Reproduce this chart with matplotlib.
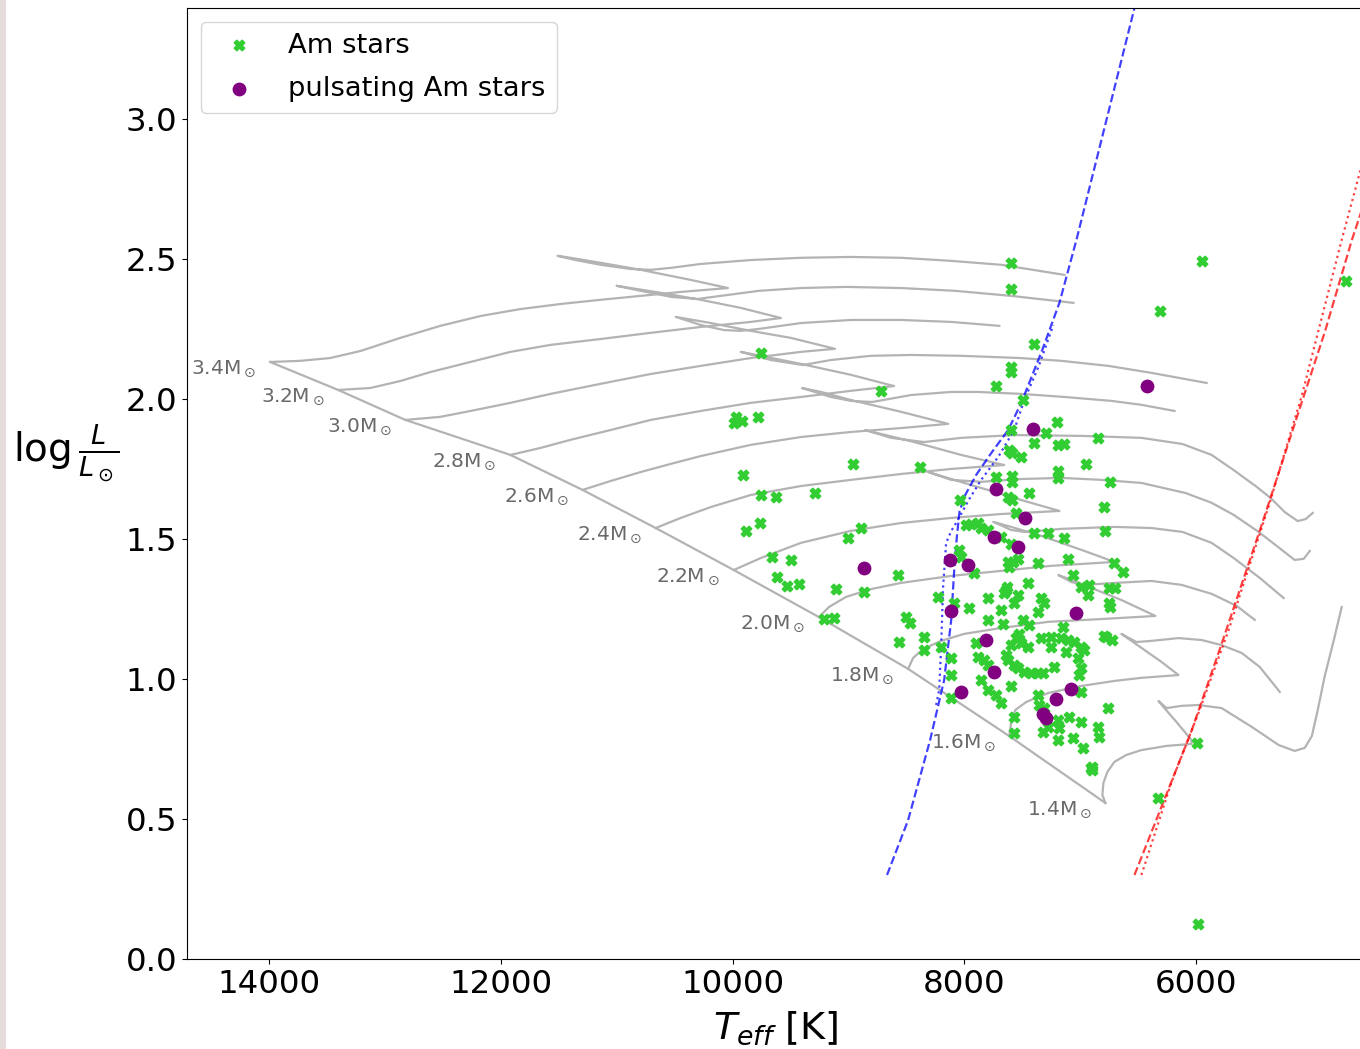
import matplotlib
matplotlib.use("Agg")
import matplotlib.pyplot as plt
from matplotlib.patches import Rectangle

# ---- evolutionary tracks (Teff [K], log L/Lsun) ----
# each track: main sequence -> hook back -> crossing to the right
t34 = [13991, 13732, 13473, 13213, 12867, 12522, 12176, 11830, 11484, 11138, 10792, 10447, 10040,
       10360, 10792, 11138, 11398, 11510,
       11355, 11138, 10879, 10706, 10533, 10274, 9842, 9409, 8977, 8545, 8112, 7680, 7135]
l34 = [2.132, 2.136, 2.146, 2.171, 2.218, 2.261, 2.296, 2.321, 2.339, 2.354, 2.368, 2.382, 2.396,
       2.425, 2.461, 2.486, 2.504, 2.511,
       2.496, 2.479, 2.464, 2.461, 2.468, 2.482, 2.496, 2.504, 2.507, 2.504, 2.493, 2.479, 2.443]
t32 = [13404, 13127, 12867, 12608, 12262, 11917, 11570, 11138, 10706, 10274, 9842, 9582,
       9928, 10274, 10620, 10879, 11000,
       10792, 10525, 10300, 10101, 9772, 9409, 9020, 8545, 8078, 7594, 7057]
l32 = [2.032, 2.039, 2.064, 2.096, 2.132, 2.168, 2.193, 2.214, 2.236, 2.257, 2.275, 2.289,
       2.325, 2.354, 2.379, 2.396, 2.404,
       2.386, 2.364, 2.357, 2.368, 2.386, 2.396, 2.400, 2.396, 2.386, 2.368, 2.343]
t30 = [12824, 12522, 12262, 11917, 11570, 11138, 10706, 10274, 9842, 9409, 9115,
       9496, 9842, 10187, 10490,
       10274, 10075, 9928, 9772, 9409, 8977, 8545, 8112, 7697]
l30 = [1.925, 1.936, 1.957, 1.986, 2.018, 2.054, 2.089, 2.118, 2.146, 2.168, 2.179,
       2.218, 2.243, 2.271, 2.293,
       2.264, 2.246, 2.243, 2.250, 2.271, 2.282, 2.282, 2.275, 2.261]
t28 = [11917, 11657, 11398, 11052, 10706, 10274, 9842, 9409, 8977, 8605,
       8977, 9409, 9755, 9928,
       9669, 9392, 9150, 8804, 8458, 8026, 7516, 7161, 6755, 6383, 5907]
l28 = [1.800, 1.825, 1.854, 1.889, 1.925, 1.957, 1.986, 2.007, 2.029, 2.046,
       2.086, 2.125, 2.154, 2.168,
       2.139, 2.121, 2.139, 2.154, 2.157, 2.154, 2.146, 2.136, 2.118, 2.093, 2.057]
t26 = [11294, 11052, 10792, 10533, 10274, 9842, 9409, 8977, 8545, 8138,
       8545, 8977, 9236, 9400,
       9150, 8977, 8795, 8458, 8112, 7888, 7507, 7135, 6729, 6470, 6184]
l26 = [1.675, 1.707, 1.739, 1.768, 1.796, 1.836, 1.864, 1.882, 1.896, 1.911,
       1.954, 1.996, 2.025, 2.039,
       2.007, 1.993, 1.989, 2.014, 2.025, 2.025, 2.018, 2.007, 1.993, 1.979, 1.957]
t24 = [10663, 10447, 10187, 9842, 9409, 8977, 8545, 8112, 7654,
       8026, 8432, 8718, 8856,
       8631, 8346, 8026, 7568, 6988, 6470, 6115, 5864, 5674, 5475, 5354, 5233, 5121, 5052, 4991]
l24 = [1.539, 1.575, 1.614, 1.657, 1.689, 1.711, 1.732, 1.750, 1.764,
       1.800, 1.846, 1.875, 1.889,
       1.861, 1.846, 1.861, 1.871, 1.868, 1.861, 1.839, 1.800, 1.746, 1.686, 1.646, 1.596, 1.564,
       1.571, 1.593]
t22 = [9989, 9755, 9409, 8977, 8545, 8112, 7680, 7178,
       7507, 7853, 8112, 8311,
       8112, 7853, 7507, 7161, 6815, 6470, 6089, 5864, 5674, 5458, 5302, 5147, 5069, 5017]
l22 = [1.389, 1.432, 1.486, 1.529, 1.557, 1.575, 1.589, 1.600,
       1.639, 1.682, 1.714, 1.739,
       1.711, 1.704, 1.714, 1.718, 1.711, 1.700, 1.664, 1.629, 1.586, 1.525, 1.475, 1.425,
       1.429, 1.457]
t20 = [9254, 9167, 9020, 8804, 8545, 8112, 7680, 7248, 6703,
       6988, 7334, 7594, 7749,
       7594, 7481, 7161, 6703, 6383, 6115, 5864, 5674, 5449, 5242]
l20 = [1.221, 1.257, 1.293, 1.321, 1.343, 1.368, 1.386, 1.404, 1.418,
       1.461, 1.511, 1.543, 1.561,
       1.532, 1.525, 1.536, 1.543, 1.539, 1.525, 1.486, 1.432, 1.361, 1.289]
t18 = [8484, 8441, 8354, 8199, 8000, 7680, 7274, 6815, 6349,
       6643, 6902, 7075, 7187,
       7075, 6962, 6694, 6383, 6124, 5864, 5648, 5492]
l18 = [1.036, 1.075, 1.107, 1.136, 1.161, 1.182, 1.204, 1.214, 1.225,
       1.282, 1.325, 1.354, 1.371,
       1.346, 1.336, 1.343, 1.350, 1.336, 1.304, 1.261, 1.211]
t16 = [7611, 7594, 7559, 7464, 7274, 6988, 6703, 6470, 6150,
       6297, 6470, 6643,
       6513, 6383, 6150, 5950, 5778, 5605, 5449, 5276]
l16 = [0.796, 0.846, 0.889, 0.918, 0.950, 0.975, 0.993, 1.004, 1.014,
       1.061, 1.111, 1.161,
       1.132, 1.136, 1.146, 1.139, 1.121, 1.093, 1.043, 0.954]
t14 = [6781, 6807, 6798, 6764, 6703, 6599, 6470, 6253, 6038,
       6038, 6167, 6323,
       6253, 6124, 5977, 5778, 5518, 5285, 5147, 5060, 4999, 4948, 4887, 4809, 4741]
l14 = [0.557, 0.586, 0.629, 0.668, 0.704, 0.729, 0.746, 0.761, 0.768,
       0.782, 0.846, 0.921,
       0.896, 0.904, 0.907, 0.896, 0.829, 0.764, 0.743, 0.754, 0.796, 0.889, 1.011, 1.139, 1.257]

masses = ['3.4', '3.2', '3.0', '2.8', '2.6', '2.4', '2.2', '2.0', '1.8', '1.6', '1.4']
tracks_t = [t34, t32, t30, t28, t26, t24, t22, t20, t18, t16, t14]
tracks_l = [l34, l32, l30, l28, l26, l24, l22, l20, l18, l16, l14]

# ---- instability strip edges ----
blue_dash_t = [8666, 8484, 8294, 8173, 8112, 8086, 8065, 8040, 7991, 7896, 7766, 7620, 7507,
               7326, 7178, 7031, 6815, 6530, 6469]
blue_dash_l = [0.300, 0.496, 0.782, 0.996, 1.211, 1.389, 1.500, 1.600, 1.657, 1.729, 1.807, 1.889,
               1.986, 2.175, 2.343, 2.568, 2.925, 3.396, 3.500]
blue_dot_t = [8242, 8216, 8199, 8182, 8156, 8110, 8069, 7960, 7853, 7706, 7568, 7481, 7360,
              7291, 7231]
blue_dot_l = [0.907, 0.961, 1.114, 1.329, 1.486, 1.530, 1.557, 1.640, 1.711, 1.793, 1.889, 1.996,
              2.114, 2.193, 2.264]
red_dash_t = [6530, 6038, 5778, 5432, 5147, 4887, 4653, 4524, 4300]
red_dash_l = [0.300, 0.814, 1.125, 1.550, 1.911, 2.239, 2.568, 2.729, 3.070]
red_dot_t = [6470, 6210, 5977, 5717, 5371, 5086, 4741, 4567, 4400]
red_dot_l = [0.300, 0.632, 0.879, 1.175, 1.618, 2.011, 2.568, 2.836, 3.100]

# ---- stars ----
am_t = [7594, 7594, 5950, 6306, 4705, 7395, 7594, 7594, 7723, 7490, 9755, 8718,
        9971, 9989, 9920, 9781, 9911, 8959, 8380, 9755, 9625, 9288, 9885, 9764,
        8890, 9003, 9660, 9496, 9617, 9530, 9426, 9106, 8864, 8571, 9210, 9124,
        8562, 8501, 8467, 8346, 8346, 8199,
        7196, 7594, 7291, 7395, 7187, 7135, 6841, 7611, 7585, 7507, 6945, 7187,
        7187, 7723, 7585, 7585, 6738, 7438, 7619, 7585, 8035, 6790, 7550, 7983,
        7939, 7879, 7853, 7792, 7395, 7274, 7135, 6781, 7680, 7594, 8043, 8026,
        7619, 7576, 7533, 7611, 7360, 7101, 6703, 6625, 7913, 7057, 7447, 7628,
        6919, 6694, 6746, 6738, 6772, 6720,
        8225, 8086, 7957, 7792, 7637, 7654, 7533, 7334, 7308, 7360, 7568, 7680,
        7490, 7438, 7663, 7792, 7144, 6988, 6928, 6746, 8112, 8112, 7896, 7879,
        7827, 7792, 7637, 7594, 7550, 7524, 7507, 7447, 7334, 7248, 7161, 7101,
        7049, 6988, 6962, 7118, 7248, 7014, 6988, 7005, 6790, 7619, 7568, 7533,
        7481, 7421, 7360, 7317, 7222, 7853, 7792, 7723, 7680, 7594, 8112, 7568,
        7360, 7351, 7308, 7274, 7317, 7187, 7178, 7187, 7092, 6988, 6841, 6833,
        6988, 6755, 7057, 6971, 6902, 6893, 6893, 7568, 6323, 5994, 5985]
am_l = [2.486, 2.393, 2.493, 2.314, 2.421, 2.196, 2.114, 2.096, 2.046, 1.996, 2.164, 2.029,
        1.936, 1.914, 1.921, 1.936, 1.729, 1.768, 1.757, 1.657, 1.650, 1.664, 1.529, 1.557,
        1.539, 1.504, 1.436, 1.425, 1.364, 1.332, 1.339, 1.321, 1.311, 1.371, 1.214, 1.218,
        1.132, 1.221, 1.200, 1.150, 1.104, 1.114,
        1.918, 1.889, 1.879, 1.843, 1.836, 1.839, 1.861, 1.818, 1.807, 1.793, 1.768, 1.743,
        1.718, 1.721, 1.725, 1.704, 1.704, 1.664, 1.650, 1.639, 1.639, 1.614, 1.593, 1.550,
        1.554, 1.557, 1.539, 1.532, 1.521, 1.521, 1.504, 1.529, 1.507, 1.482, 1.461, 1.436,
        1.418, 1.418, 1.429, 1.400, 1.414, 1.429, 1.414, 1.382, 1.379, 1.371, 1.343, 1.329,
        1.336, 1.325, 1.271, 1.257, 1.150, 1.139,
        1.293, 1.271, 1.254, 1.289, 1.318, 1.307, 1.300, 1.289, 1.271, 1.239, 1.271, 1.246,
        1.211, 1.193, 1.196, 1.211, 1.186, 1.329, 1.300, 1.325, 1.075, 1.014, 1.129, 1.079,
        1.068, 1.050, 1.086, 1.121, 1.146, 1.161, 1.129, 1.114, 1.146, 1.150, 1.146, 1.139,
        1.132, 1.114, 1.104, 1.096, 1.114, 1.075, 1.039, 1.014, 1.154, 1.068, 1.050, 1.039,
        1.025, 1.021, 1.021, 1.021, 1.043, 0.996, 0.961, 0.943, 0.914, 0.975, 0.932, 0.864,
        0.943, 0.907, 0.896, 0.829, 0.811, 0.854, 0.825, 0.782, 0.864, 0.846, 0.829, 0.793,
        0.954, 0.896, 0.789, 0.754, 0.682, 0.686, 0.675, 0.807, 0.575, 0.771, 0.125]

puls_t = [6426, 7403, 7723, 7472, 7740, 7533, 8121, 7965, 8864, 8112, 7031, 7810,
          7740, 8026, 7075, 7205, 7317, 7291]
puls_l = [2.046, 1.893, 1.679, 1.575, 1.507, 1.471, 1.425, 1.407, 1.396, 1.243, 1.236, 1.139,
          1.025, 0.954, 0.964, 0.929, 0.875, 0.861]

fig = plt.figure(figsize=(13.6, 10.49), dpi=100)
fig.patches.append(Rectangle((0, 0), 5 / 1360, 1, transform=fig.transFigure,
                             color='#e6dcdc', zorder=-10))
ax = fig.add_axes([187 / 1360, 90 / 1049, 1178 / 1360, 951 / 1049])

track_col = '#b3b3b3'
for tt, ll in zip(tracks_t, tracks_l):
    ax.plot(tt, ll, color=track_col, lw=1.6, zorder=1, solid_joinstyle='round')
# ZAMS through the first point of every track
ax.plot([t[0] for t in tracks_t], [l[0] for l in tracks_l], color=track_col, lw=1.6, zorder=1)

for m, tt, ll in zip(masses, tracks_t, tracks_l):
    ax.annotate(m + r'M$_\odot$', (tt[0], ll[0]), xytext=(-10, -5), textcoords='offset points',
                ha='right', va='center', fontsize=14.5, color='dimgray')

ax.plot(blue_dash_t, blue_dash_l, '--', color='blue', alpha=0.75, lw=1.6, zorder=2)
ax.plot(blue_dot_t, blue_dot_l, ':', color='blue', alpha=0.75, lw=1.6, zorder=2)
ax.plot(red_dash_t, red_dash_l, '--', color='red', alpha=0.75, lw=1.6, zorder=2)
ax.plot(red_dot_t, red_dot_l, ':', color='red', alpha=0.75, lw=1.6, zorder=2)

ax.scatter(am_t, am_l, marker='X', s=58, color='#32cd32', label='Am stars', zorder=3)
ax.scatter(puls_t, puls_l, marker='o', s=80, color='purple', label='pulsating Am stars', zorder=4)

ax.set_xlim(14709, 4540)
ax.set_ylim(0, 3.396)
ax.set_xticks([14000, 12000, 10000, 8000, 6000])
ax.set_yticks([0.0, 0.5, 1.0, 1.5, 2.0, 2.5, 3.0])
ax.set_yticklabels(['0.0', '0.5', '1.0', '1.5', '2.0', '2.5', '3.0'])
ax.tick_params(labelsize=23.3)
ax.spines['right'].set_visible(False)

ax.set_xlabel(r'$T_{eff}$ [K]', fontsize=27.5, labelpad=7)
ax.set_ylabel(r'$\log\frac{L}{L_\odot}$', fontsize=28, rotation=0, ha='right', va='center')
ax.yaxis.set_label_coords(-0.057, 0.532)

ax.legend(loc='upper left', fontsize=19.7, labelspacing=0.63)

fig.savefig('out.png', dpi=100)
